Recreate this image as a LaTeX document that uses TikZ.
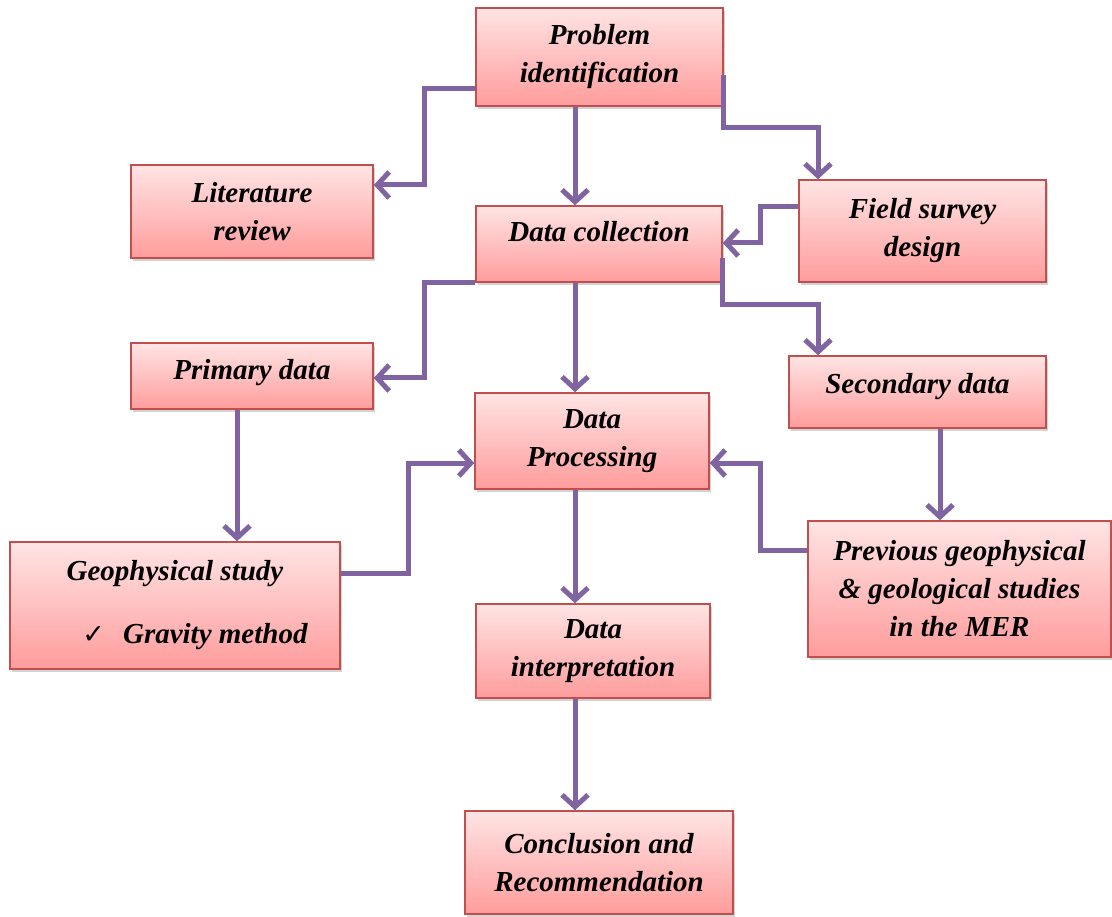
\documentclass[tikz,border=0pt]{standalone}
\usepackage{fontspec}
\setmainfont{Liberation Serif}
\newfontfamily\symfont{DejaVu Sans}
\usetikzlibrary{calc}
\usetikzlibrary{arrows.meta}
\usetikzlibrary{shadows}

\definecolor{boxred}{HTML}{C0504D}
\definecolor{boxtop}{HTML}{FFE4E4}
\definecolor{boxbot}{HTML}{FF9C9C}
\definecolor{flowpurple}{HTML}{8064A2}

\tikzset{
  stage/.style={draw=boxred, line width=1.5pt, top color=boxtop, bottom color=boxbot,
    drop shadow={shadow xshift=2pt, shadow yshift=-3pt, opacity=0.35},
    align=center, inner sep=0pt, font=\fontsize{29}{38}\selectfont\bfseries\itshape},
  flow/.style={draw=flowpurple, line width=5pt, -{Straight Barb[length=12pt,width=26pt]}}
}

\begin{document}
\begin{tikzpicture}[x=1pt, y=-1pt]

\useasboundingbox (0,0) rectangle (1112,917);

% boxes
\node[stage, minimum width=247pt, minimum height=98pt]  (prob)   at (599.5,57)  {Problem\\identification};
\node[stage, minimum width=242pt, minimum height=93pt]  (lit)    at (252,211.5) {Literature\\review};
\node[stage, minimum width=246pt, minimum height=76pt, text depth=26pt] (coll) at (599,244) {Data collection};
\node[stage, minimum width=247pt, minimum height=102pt] (field)  at (922.5,231) {Field survey\\design};
\node[stage, minimum width=242pt, minimum height=66pt, text depth=14pt] (prim) at (252,376) {Primary data};
\node[stage, minimum width=257pt, minimum height=72pt, text depth=18pt] (sec)  at (917.5,392) {Secondary data};
\node[stage, minimum width=234pt, minimum height=96pt]  (proc)   at (592,441)   {Data\\Processing};
\node[stage, minimum width=330pt, minimum height=127pt] (geo)    at (175,605.5) {Geophysical study\\[25pt]\hspace*{40pt}{\symfont\fontsize{27}{27}\selectfont ✓}\hspace{18pt}Gravity method};
\node[stage, minimum width=303pt, minimum height=136pt] (prev)   at (959.5,589) {Previous geophysical\\\& geological studies\\in the MER};
\node[stage, minimum width=234pt, minimum height=94pt]  (interp) at (593,651)   {Data\\interpretation};
\node[stage, minimum width=268pt, minimum height=103pt] (conc)   at (599,862.5) {Conclusion and\\Recommendation};

% connectors
\draw[flow] (prob.west |- 0,89) -| (424,185) -- (lit.east |- 0,185);
\draw[flow] (prob.south -| 575,0) -- (coll.north -| 575,0);
\draw[flow] (prob.east |- 0,75) |- (818,128) -- (field.north -| 818,0);
\draw[flow] (field.west |- 0,207) -| (760,243) -- (coll.east |- 0,243);
\draw[flow] (coll.south west) -| (424,378) -- (prim.east |- 0,378);
\draw[flow] (coll.south -| 575,0) -- (proc.north -| 575,0);
\draw[flow] (coll.east |- 0,258) |- (818,305) -- (sec.north -| 818,0);
\draw[flow] (prim.south -| 237,0) -- (geo.north -| 237,0);
\draw[flow] (sec.south -| 940,0) -- (prev.north -| 940,0);
\draw[flow] (geo.east |- 0,573) -| (408,463) -- (proc.west |- 0,463);
\draw[flow] (prev.west |- 0,550) -| (760,463) -- (proc.east |- 0,463);
\draw[flow] (proc.south -| 575,0) -- (interp.north -| 575,0);
\draw[flow] (interp.south -| 575,0) -- (conc.north -| 575,0);

\end{tikzpicture}
\end{document}
